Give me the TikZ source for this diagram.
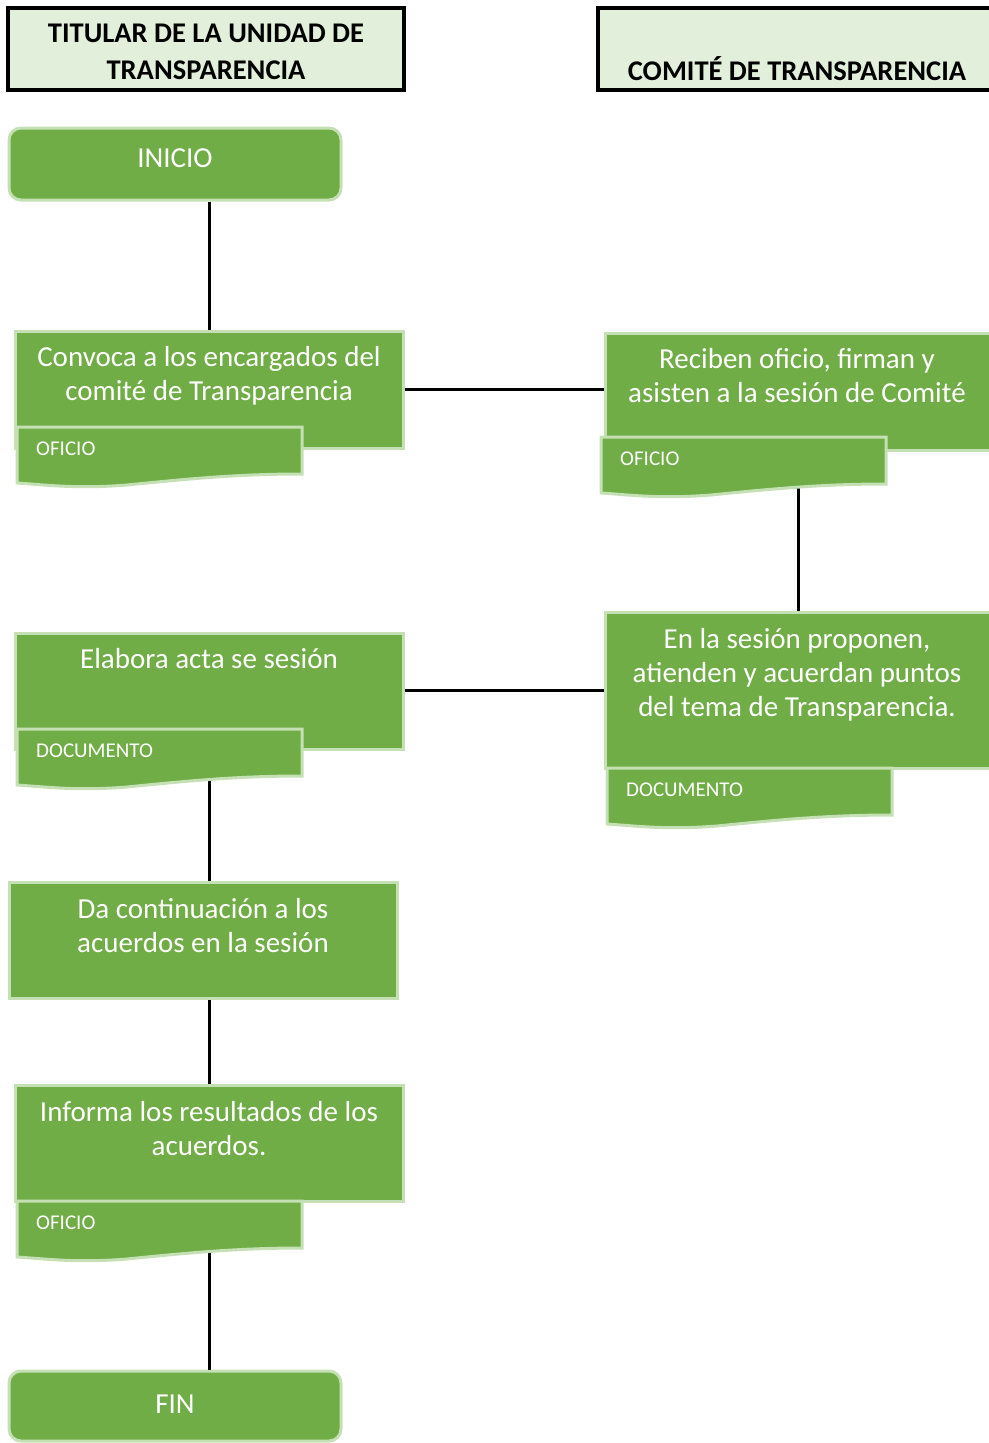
\documentclass[tikz,border=0pt]{standalone}
\usepackage{fontspec}
\setmainfont{Carlito}
\usetikzlibrary{positioning}
\definecolor{hoja}{HTML}{70AD47}
\definecolor{orilla}{HTML}{C5E0B4}
\definecolor{encab}{HTML}{E2EFDA}

\tikzset{
  caja/.style={rectangle, fill=hoja, draw=orilla, line width=3pt, inner sep=0pt},
  redonda/.style={caja, rounded corners=12pt},
  titulo/.style={rectangle, fill=encab, draw=black, line width=3.5pt, inner sep=0pt},
  textotit/.style={font=\bfseries\fontsize{28.5}{37}\selectfont, align=center, inner sep=0pt},
  texto/.style={text=white, font=\fontsize{29}{34}\selectfont, align=center, inner sep=0pt, anchor=base},
  hojita/.style={fill=hoja, draw=orilla, line width=3pt},
  etiqueta/.style={text=white, font=\fontsize{21}{25}\selectfont, inner sep=0pt, anchor=west},
  linea/.style={line width=3pt}
}

\begin{document}
\begin{tikzpicture}[x=1pt, y=-1pt]

\useasboundingbox (0,0) rectangle (988,1443) ;

% encabezados
\node [titulo, minimum width=396pt, minimum height=82pt] (tit1) at (206,49) {} ;
\node [titulo, minimum width=400pt, minimum height=82pt] (tit2) at (798,49) {} ;
\node [textotit] at (206,52) {TITULAR DE LA UNIDAD DE\\TRANSPARENCIA} ;
\node [textotit, anchor=base] at (797,80) {COMITÉ DE TRANSPARENCIA} ;

% cajas
\node [redonda, minimum width=332pt, minimum height=72pt] (inicio) at (175,164) {} ;
\node [caja, minimum width=388pt, minimum height=117pt] (conv) at (209,389.5) {} ;
\node [caja, minimum width=387pt, minimum height=117pt] (rec) at (798.5,391.5) {} ;
\node [caja, minimum width=387pt, minimum height=156pt] (ses) at (798.5,690) {} ;
\node [caja, minimum width=388pt, minimum height=116pt] (acta) at (209,691) {} ;
\node [caja, minimum width=388pt, minimum height=116pt] (cont) at (203,940) {} ;
\node [caja, minimum width=388pt, minimum height=116pt] (inf) at (209,1143) {} ;
\node [redonda, minimum width=332pt, minimum height=70pt] (fin) at (175,1406) {} ;

% conectores
\draw [linea] (inicio.south -| conv.north) -- (conv.north) ;
\draw [linea] (conv.east) -- (conv.east -| rec.west) ;
\draw [linea] (rec.south) -- (ses.north -| rec.south) ;
\draw [linea] (ses.west) -- (ses.west -| acta.east) ;
\draw [linea] (acta.south) -- (cont.north -| acta.south) ;
\draw [linea] (cont.south -| inf.north) -- (inf.north) ;
\draw [linea] (inf.south) -- (fin.north -| inf.south) ;

% documentos
\foreach \x/\y/\t/\n in {17/427/OFICIO/doca, 601/437/OFICIO/docb, 17/729/DOCUMENTO/docc, 607/768/DOCUMENTO/docd, 17/1201/OFICIO/doce} {
  \draw [hojita] (\x,\y) -- (\x+285,\y) -- (\x+285,\y+47)
    .. controls (\x+220,\y+47) and (\x+170,\y+52) .. (\x+110,\y+58)
    .. controls (\x+60,\y+62) and (\x+30,\y+58) .. (\x,\y+56) -- cycle ;
  \node [etiqueta] (\n) at (\x+19,\y+21.5) {\t} ;
}

% textos (base = ultima linea)
\node [texto] at (175,167) {INICIO} ;
\node [texto] at (209,400) {Convoca a los encargados del\\comité de Transparencia} ;
\node [texto] at (797,402) {Reciben oficio, firman y\\asisten a la sesión de Comité} ;
\node [texto] at (797,716) {En la sesión proponen,\\atienden y acuerdan puntos\\del tema de Transparencia.} ;
\node [texto] at (209,668) {Elabora acta se sesión} ;
\node [texto] at (203,952) {Da continuación a los\\acuerdos en la sesión} ;
\node [texto] at (209,1155) {Informa los resultados de los\\acuerdos.} ;
\node [texto] at (175,1413) {FIN} ;

\end{tikzpicture}
\end{document}
